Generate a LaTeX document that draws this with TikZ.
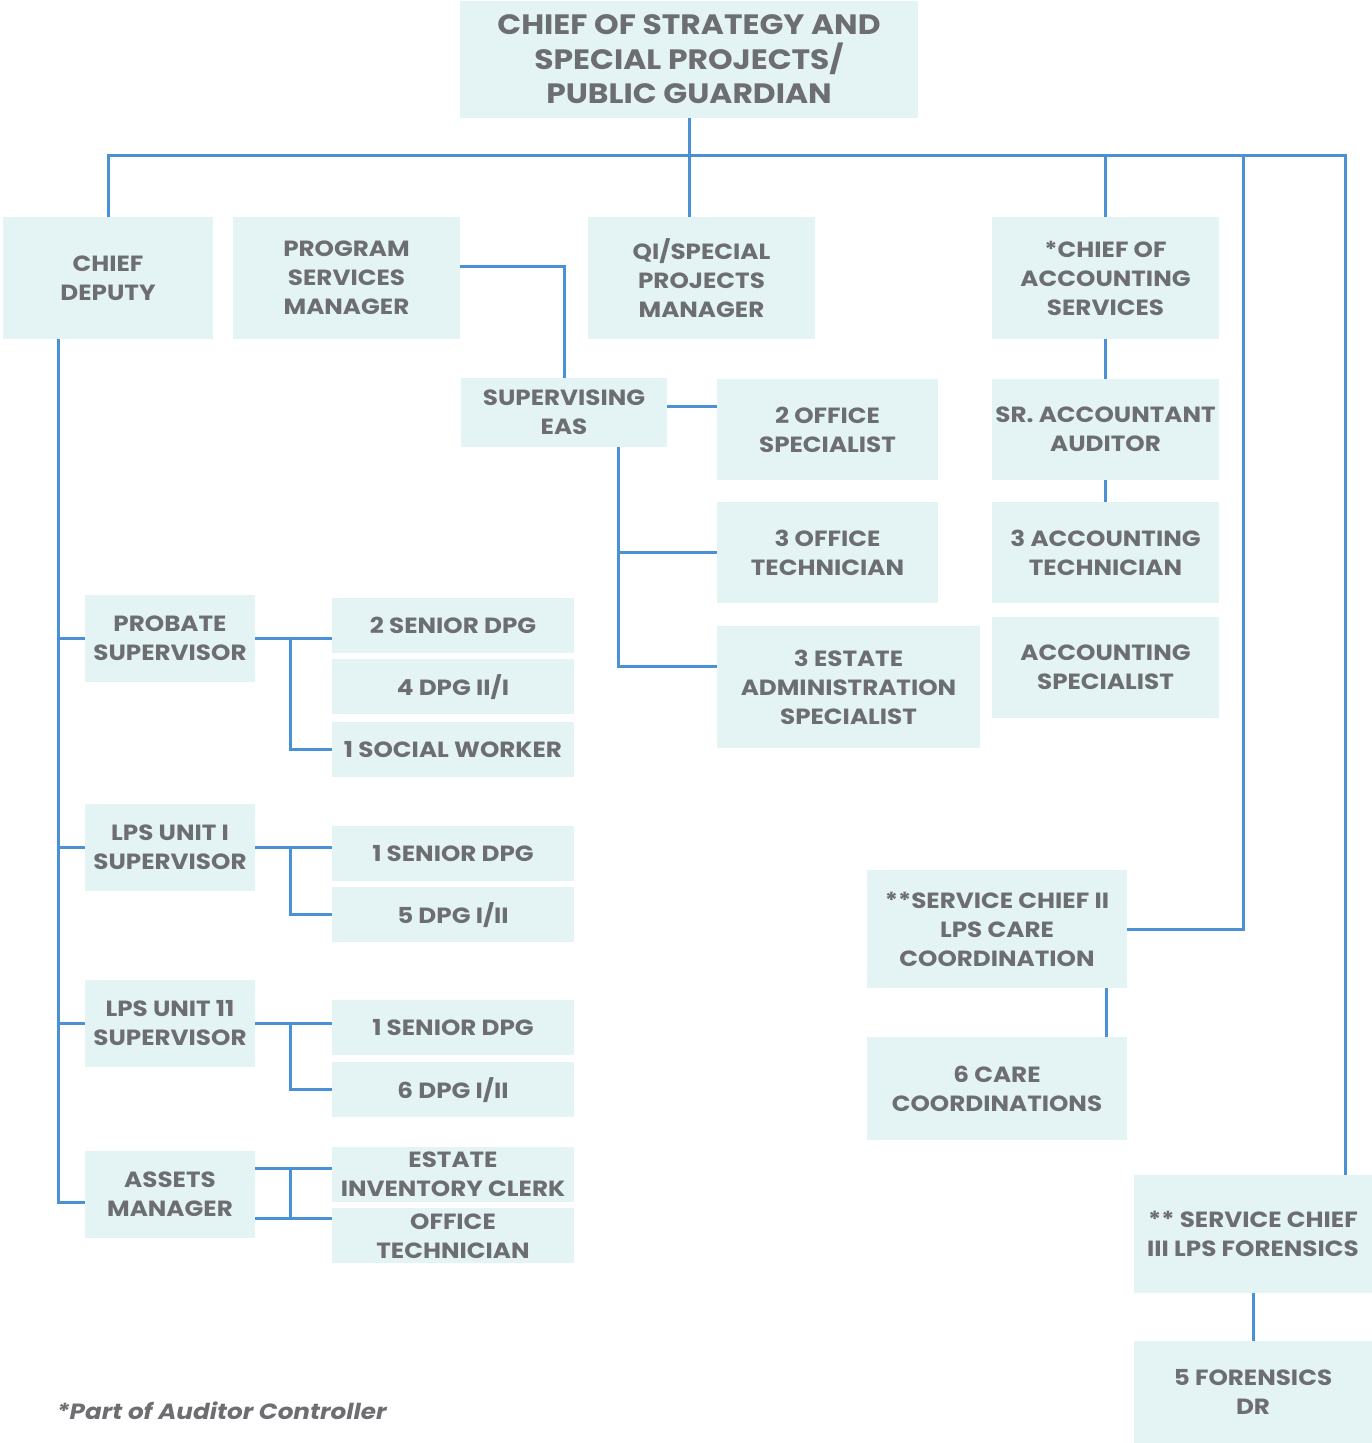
\documentclass[tikz,border=0pt]{standalone}
\usepackage{fontspec}
\setmainfont{Poppins}[FakeStretch=1.12]
\usepackage{tikz}
\usetikzlibrary{positioning,calc}
\definecolor{boxbg}{RGB}{228,244,244}
\definecolor{txtgray}{RGB}{109,110,113}
\definecolor{wire}{RGB}{74,144,212}
\tikzset{
  org/.style={fill=boxbg,text=txtgray,align=center,inner sep=0pt,font=\fontsize{22}{29}\selectfont\bfseries},
  ln/.style={draw=wire,line width=3pt},
}
\begin{document}
\begin{tikzpicture}[x=1pt,y=-1pt,
  head/.style={org,font=\fontsize{28}{34.5}\selectfont\bfseries},
  wide/.style={org,minimum width=227pt,minimum height=122pt},
  mid/.style={org,minimum width=221pt,minimum height=101pt},
  sup/.style={org,minimum width=170pt,minimum height=87pt},
  staff/.style={org,minimum width=242pt,minimum height=55pt}]
  \useasboundingbox (0,0) rectangle (1372,1443);
  % top row
  \node[head,minimum width=458pt,minimum height=117pt] (chief) at (689,59.5) {CHIEF OF STRATEGY AND\\SPECIAL PROJECTS/\\PUBLIC GUARDIAN};
  \node[org,minimum width=210pt,minimum height=122pt] (deputy) at (108,278) {CHIEF\\DEPUTY};
  \node[wide] (psm) at (346.5,278) {PROGRAM\\SERVICES\\MANAGER};
  \node[wide] (qi) at (701.5,278) {QI/SPECIAL\\PROJECTS\\MANAGER};
  \node[wide] (acct) at (1105.5,278) {*CHIEF OF\\ACCOUNTING\\SERVICES};
  % program services
  \node[org,minimum width=206pt,minimum height=69pt] (eas) at (564,412.5) {SUPERVISING\\EAS};
  \node[mid] (offspec) at (827.5,429.5) {2 OFFICE\\SPECIALIST};
  \node[mid,below=22pt of offspec] (offtech) {3 OFFICE\\TECHNICIAN};
  \node[org,minimum width=263pt,minimum height=122pt] (estadm) at (848.5,687) {3 ESTATE\\ADMINISTRATION\\SPECIALIST};
  % accounting
  \node[org,minimum width=227pt,minimum height=101pt] (sracct) at (1105.5,429.5) {SR. ACCOUNTANT\\AUDITOR};
  \node[org,minimum width=227pt,minimum height=101pt,below=22pt of sracct] (accttech) {3 ACCOUNTING\\TECHNICIAN};
  \node[org,minimum width=227pt,minimum height=101pt,below=13pt of accttech] (acctspec) {ACCOUNTING\\SPECIALIST};
  % deputy units
  \node[sup] (probate) at (170,638.5) {PROBATE\\SUPERVISOR};
  \node[staff] (sdpg1) at (453,625.5) {2 SENIOR DPG};
  \node[staff,below=6pt of sdpg1] (dpg4) {4 DPG II/I};
  \node[staff,below=7pt of dpg4] (social) {1 SOCIAL WORKER};
  \node[sup] (lps1) at (170,847.5) {LPS UNIT I\\SUPERVISOR};
  \node[staff] (sdpg2) at (453,853.5) {1 SENIOR DPG};
  \node[staff,below=6pt of sdpg2] (dpg5) {5 DPG I/II};
  \node[sup] (lps2) at (170,1023.5) {LPS UNIT 11\\SUPERVISOR};
  \node[staff] (sdpg3) at (453,1027.5) {1 SENIOR DPG};
  \node[staff,below=7pt of sdpg3] (dpg6) {6 DPG I/II};
  \node[sup] (assets) at (170,1194.5) {ASSETS\\MANAGER};
  \node[staff] (clerk) at (453,1174.5) {ESTATE\\INVENTORY CLERK};
  \node[staff,below=6pt of clerk] (asstech) {OFFICE\\TECHNICIAN};
  % service chiefs
  \node[org,minimum width=260pt,minimum height=118pt] (sc2) at (997,929) {**SERVICE CHIEF II\\LPS CARE\\COORDINATION};
  \node[org,minimum width=260pt,minimum height=103pt] (care) at (997,1088.5) {6 CARE\\COORDINATIONS};
  \node[org,minimum width=238pt,minimum height=118pt] (sc3) at (1253,1234) {** SERVICE CHIEF\\III LPS FORENSICS};
  \node[org,minimum width=238pt,minimum height=102pt] (foren) at (1253,1392) {5 FORENSICS\\DR};
  \node[anchor=west,text=txtgray,font=\fontsize{22}{25}\selectfont\bfseries\itshape] (note) at (53,1411) {*Part of Auditor Controller};
  % connectors
  \coordinate (bus) at (689,155);
  \coordinate (busR) at (1345,155);
  \coordinate (busS) at (1243,155);
  \draw[ln] (chief.south) -- (chief.south |- qi.north);
  \draw[ln] (deputy.north) |- (busR) -- (busR |- sc3.north);
  \draw[ln] (acct.north) -- (acct.north |- bus);
  \draw[ln] (busS) |- (sc2.east);
  \draw[ln] ([yshift=12pt]psm.east) -| (eas.north);
  \draw[ln] ([yshift=6pt]eas.east) -- ([yshift=6pt]eas.east -| offspec.west);
  \draw[ln] ([xshift=54pt]eas.south) |- ([yshift=21pt]estadm.west);
  \draw[ln] ([xshift=54pt]eas.south |- offtech.west) -- (offtech.west);
  \draw[ln] (acct.south) -- (sracct.north);
  \draw[ln] (sracct.south) -- (accttech.north);
  \draw[ln] ([xshift=-50pt]deputy.south) |- ([yshift=-7.5pt]assets.west);
  \foreach \u in {probate,lps1,lps2}
    \draw[ln] (\u.west) -- ++(-27,0);
  \draw[ln] (probate.east) -- (probate.east -| sdpg1.west);
  \draw[ln] ([xshift=35pt]probate.east) |- (social.west);
  \draw[ln] (lps1.east) -- (lps1.east -| sdpg2.west);
  \draw[ln] ([xshift=35pt]lps1.east) |- (dpg5.west);
  \draw[ln] (lps2.east) -- (lps2.east -| sdpg3.west);
  \draw[ln] ([xshift=35pt]lps2.east) |- (dpg6.west);
  \draw[ln] ([yshift=26.5pt]assets.east) -- ([yshift=26.5pt]assets.east -| clerk.west);
  \draw[ln] ([yshift=-23.5pt]assets.east) -- ([yshift=-23.5pt]assets.east -| asstech.west);
  \draw[ln] ([xshift=35pt,yshift=26.5pt]assets.east) -- ([xshift=35pt,yshift=-23.5pt]assets.east);
  \draw[ln] ([xshift=109pt]sc2.south) -- ([xshift=109pt]care.north);
  \draw[ln] (sc3.south) -- (foren.north);
\end{tikzpicture}
\end{document}
